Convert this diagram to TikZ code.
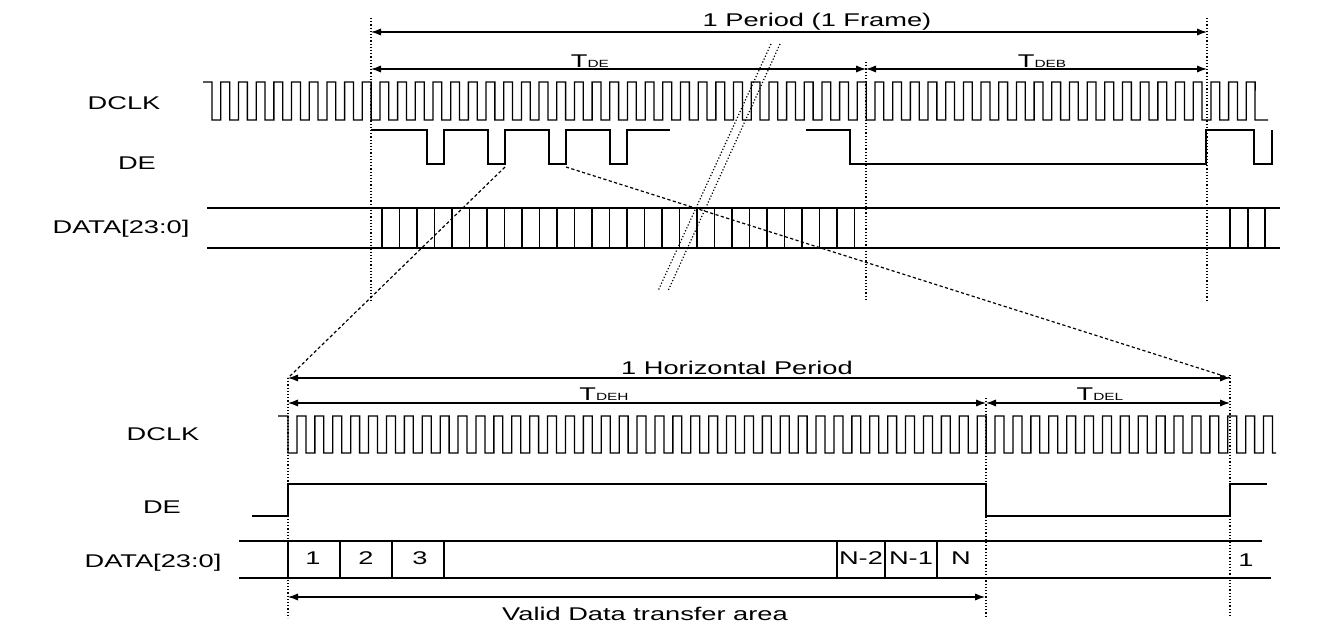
\documentclass[tikz,border=0pt]{standalone}
\usepackage{fontspec}
\setmainfont{Liberation Sans}[FakeStretch=1.48]
\usetikzlibrary{arrows.meta,positioning}

\tikzset{
  wave/.style={line width=0.65pt},
  guide/.style={densely dotted,line width=0.6pt},
  zoomline/.style={dash pattern=on 1.6pt off 1.2pt,line width=0.6pt},
  dim/.style={{Latex[length=5pt,width=3.6pt]}-{Latex[length=5pt,width=3.6pt]},line width=0.55pt},
  lbl/.style={font=\fontsize{9.2}{11}\selectfont,inner sep=0pt},
}
\newcommand{\tsub}[1]{T{\fontsize{5.2}{6}\selectfont #1}}

\begin{document}
\begin{tikzpicture}[x=0.5pt,y=-0.5pt]
\useasboundingbox (0,0) rectangle (1341,630);

% ---- one frame ----
\coordinate (fs) at (371,32);  \coordinate (fe) at (1207,32);
\coordinate (ds) at (371,69);  \coordinate (db) at (866,69);  \coordinate (dend) at (1207,69);
\draw[dim] (fs) -- (fe);
\draw[dim] (ds) -- (db);
\draw[dim] (db) -- (dend);
\node[lbl] (period) at (817,22) {1 Period (1 Frame)};
\node[lbl] (tde) at (590,61) {\tsub{DE}};
\node[lbl] (tdeb) at (1042,61) {\tsub{DEB}};

\node[lbl] (clkA) at (124,103) {DCLK};
\node[lbl] (deA) at (137,163) {DE};
\node[lbl] (dataA) at (121,229) {DATA[23:0]};

\draw[guide] (371,18) -- (371,300);
\draw[guide] (866,62) -- (866,300);
\draw[guide] (1207,18) -- (1207,300);

% clock
\draw[wave] (203,82) -- (212,82)
  \foreach \k in {0,...,58} {
    -- ({212+\k*17.68},120) -- ({212+(\k+0.5)*17.68},120)
    -- ({212+(\k+0.5)*17.68},82) -- ({212+(\k+1)*17.68},82) }
  -- (1255,120) -- (1268,120);

% data enable
\draw[wave] (371,130)
  \foreach \k in {0,...,3} {
    -- ({427+\k*61},130) -- ({427+\k*61},164) -- ({444+\k*61},164) -- ({444+\k*61},130) }
  -- (670,130);
\draw[wave] (806,130) -- (850,130) -- (850,164) -- (1206,164) -- (1206,130)
  -- (1254,130) -- (1254,164) -- (1272,164) -- (1272,130);

% data bus
\draw[wave] (207,208) -- (1280,208);
\draw[wave] (207,248) -- (1280,248);
\foreach \k in {0,...,27}
  \draw[wave] ({382+\k*17.5},208) -- ++(0,40);
\foreach \x in {1230,1248,1265}
  \draw[wave] (\x,208) -- ++(0,40);

% break
\draw[guide] (771,44) -- (658,291);
\draw[guide] (780,44) -- (668,291);

% ---- zoom to one line ----
\coordinate (zl) at (505,167);  \coordinate (zr) at (566,167);
\coordinate (hs) at (288,378);  \coordinate (he) at (1230,378);
\draw[zoomline] (zl) -- (hs);
\draw[zoomline] (zr) -- (he);

\coordinate (hd) at (288,403);  \coordinate (hb) at (986,403);  \coordinate (hf) at (1230,403);
\draw[dim] (hs) -- (he);
\draw[dim] (hd) -- (hb);
\draw[dim] (hb) -- (hf);
\node[lbl] (hperiod) at (737,368) {1 Horizontal Period};
\node[lbl] (tdeh) at (604,394) {\tsub{DEH}};
\node[lbl] (tdel) at (1100,394) {\tsub{DEL}};

\node[lbl] (clkB) at (163,434) {DCLK};
\node[lbl] (deB) at (162,507) {DE};
\node[lbl] (dataB) at (153,563) {DATA[23:0]};

\draw[guide] (288,378) -- (288,618);
\draw[guide] (986,398) -- (986,618);
\draw[guide] (1230,375) -- (1230,618);

% clock
\draw[wave] (278,416) -- (288,416)
  \foreach \k in {0,...,54} {
    -- ({288+\k*17.9},453) -- ({288+(\k+0.5)*17.9},453)
    -- ({288+(\k+0.5)*17.9},416) -- ({288+(\k+1)*17.9},416) }
  -- (1272.5,453) -- (1276,453);

% data enable
\draw[wave] (252,516) -- (288,516) -- (288,484) -- (986,484) -- (986,516)
  -- (1230,516) -- (1230,484) -- (1267,484);

% data bus
\draw[wave] (239,541) -- (1262,541);
\draw[wave] (239,578) -- (1271,578);
\foreach \x in {288,340,392,444,837,885,937}
  \draw[wave] (\x,541) -- (\x,578);
\node[lbl] (c1) at (313,558) {1};
\node[lbl] (c2) at (366,558) {2};
\node[lbl] (c3) at (420,558) {3};
\node[lbl] (cn2) at (861,558) {N-2};
\node[lbl] (cn1) at (911,558) {N-1};
\node[lbl] (cn) at (961,558) {N};
\node[lbl] (cnext) at (1246,560) {1};

\coordinate (vs) at (288,597);  \coordinate (ve) at (985,597);
\draw[dim] (vs) -- (ve);
\node[lbl] (valid) at (645,614) {Valid Data transfer area};
\end{tikzpicture}
\end{document}
